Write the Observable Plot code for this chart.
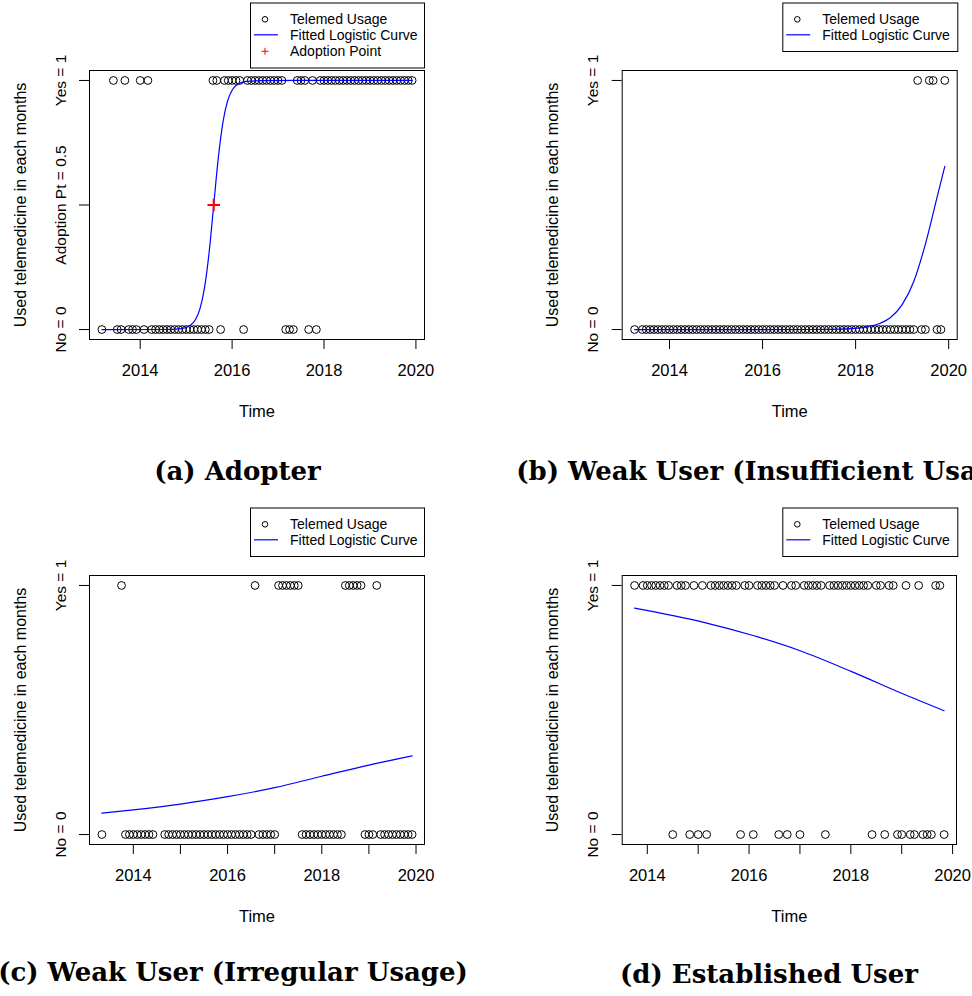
<!DOCTYPE html>
<html>
<head>
<meta charset="utf-8">
<script src="https://cdn.jsdelivr.net/npm/d3@7"></script>
<script src="https://cdn.jsdelivr.net/npm/@observablehq/plot@0.6"></script>
<style>
  html, body { margin: 0; padding: 0; background: #fff; }
  #fig { position: relative; width: 972px; height: 996px; overflow: hidden; background: #fff; }
  #fig > svg { position: absolute; }
</style>
</head>
<body>
<div id="fig"></div>
<script>
// Monthly usage records, as month indices counted from January 2013 (0 = Jan 2013).
// "No" = no telemedicine use in that month, "Yes" = telemedicine used.
const adopterNo  = [2, 6, 7, 9, 10, 11, 13, 15, 16, 17, 18, 19, 20, 21, 22, 23, 24, 25, 26, 27, 28, 29, 30, 33, 39, 50, 51, 52, 56, 58];
const adopterYes = [5, 8, 12, 14, 31, 32, 34, 35, 36, 37, 38, 40, 41, 42, 43, 44, 45, 46, 47, 48, 49, 53, 54, 55, 57,
                    59, 60, 61, 62, 63, 64, 65, 66, 67, 68, 69, 70, 71, 72, 73, 74, 75, 76, 77, 78, 79, 80, 81, 82, 83];

const insufficientNo  = [3, 5, 6, 7, 8, 9, 10, 11, 12, 13, 14, 15, 16, 17, 18, 19, 20, 21, 22, 23, 24, 25, 26, 27, 28, 29, 30,
                         31, 32, 33, 34, 35, 36, 37, 38, 39, 40, 41, 42, 43, 44, 45, 46, 47, 48, 49, 50, 51, 52, 53, 54, 55,
                         56, 57, 58, 59, 60, 61, 62, 63, 64, 65, 66, 67, 68, 69, 70, 71, 72, 73, 74, 75, 77, 78, 81, 82];
const insufficientYes = [76, 79, 80, 83];

const irregularNo  = [4, 10, 11, 12, 13, 14, 15, 16, 17, 20, 21, 22, 23, 24, 25, 26, 27, 28, 29, 30, 31, 32, 33, 34, 35, 36,
                      37, 38, 39, 40, 41, 42, 44, 45, 46, 47, 48, 55, 56, 57, 58, 59, 60, 61, 62, 63, 64, 65, 71, 72, 73,
                      75, 76, 77, 78, 79, 80, 81, 82, 83];
const irregularYes = [9, 43, 49, 50, 51, 52, 53, 54, 66, 67, 68, 69, 70, 74];

const establishedNo  = [18, 22, 24, 26, 34, 37, 43, 45, 48, 54, 65, 68, 71, 72, 74, 75, 77, 78, 79, 82];
const establishedYes = [9, 11, 12, 13, 14, 15, 16, 17, 19, 20, 21, 23, 25, 27, 28, 29, 30, 31, 32, 33, 35, 36, 38, 39, 40,
                        41, 42, 44, 46, 47, 49, 50, 51, 52, 53, 55, 56, 57, 58, 59, 60, 61, 62, 63, 64, 66, 67, 69, 70,
                        73, 76, 80, 81];

// Fitted logistic curves: [time, fitted probability]
const adopterFit = [[2013.167, 0], [2014.5, 0.0002], [2014.9, 0.004], [2015.1, 0.018], [2015.2, 0.039], [2015.3, 0.083],
                    [2015.4, 0.168], [2015.5, 0.31], [2015.6, 0.5], [2015.7, 0.69], [2015.8, 0.832], [2015.9, 0.917],
                    [2016.0, 0.961], [2016.1, 0.982], [2016.3, 0.996], [2016.6, 0.999], [2017.5, 1], [2019.917, 1]];
const insufficientFit = [[2013.25, 0], [2016, 0.00001], [2017, 0.0002], [2017.5, 0.001], [2018, 0.005], [2018.25, 0.011],
                         [2018.5, 0.023], [2018.75, 0.048], [2019, 0.10], [2019.25, 0.193], [2019.5, 0.343],
                         [2019.75, 0.531], [2019.917, 0.655]];
const irregularFit = [[2013.333, 0.086], [2014, 0.099], [2015, 0.122], [2016, 0.152], [2017, 0.188], [2018, 0.234],
                      [2019, 0.279], [2019.917, 0.316]];
const establishedFit = [[2013.75, 0.909], [2015.09, 0.853], [2016.08, 0.799], [2016.99, 0.739], [2018.04, 0.652],
                        [2019.02, 0.565], [2019.833, 0.497]];

// Adoption point of the adopter's fitted curve
const adoptionPoint = {time: 2015.6, p: 0.5};

// Axis ticks and labels
const evenYears = [2014, 2016, 2018, 2020];
const allYears = [2014, 2015, 2016, 2017, 2018, 2019, 2020];
const yTicksBasic = [{v: 0, label: "No = 0"}, {v: 1, label: "Yes = 1"}];
const yTicksAdopter = [{v: 0, label: "No = 0"}, {v: adoptionPoint.p, label: `Adoption Pt = ${adoptionPoint.p}`}, {v: 1, label: "Yes = 1"}];
const yTitle = "Used telemedicine in each months";
const xTitle = "Time";
const legendLabels = ["Telemed Usage", "Fitted Logistic Curve", "Adoption Point"];
const captions = ["(a) Adopter", "(b) Weak User (Insufficient Usage)", "(c) Weak User (Irregular Usage)", "(d) Established User"];

const toYear = m => 2013 + m / 12;
const SANS = "'Liberation Sans', Arial, Helvetica, sans-serif";
const fig = document.getElementById("fig");

function panel({no, yes, fit, yTicks, xTicks, left, top, width, height, frame, adoption}) {
  const pts = [
    ...no.map(m => ({t: toYear(m), v: 0})),
    ...yes.map(m => ({t: toYear(m), v: 1}))
  ];
  const [t0, t1] = d3.extent(pts, d => d.t);
  const pad = (t1 - t0) * 0.04;
  const marks = [
    Plot.dot(pts, {x: "t", y: "v", r: 3.9, stroke: "black", strokeWidth: 1, fill: "none"}),
    Plot.line(fit, {x: d => d[0], y: d => d[1], stroke: "#0000ff", strokeWidth: 1.2, curve: "monotone-x"}),
    Plot.frame({stroke: "black", strokeWidth: 1}),
    Plot.axisX({ticks: xTicks, tickSize: 10, tickPadding: 15, label: null, fontSize: 16.5,
                tickFormat: d => evenYears.includes(d) ? String(d) : ""}),
    Plot.axisY({ticks: yTicks.map(d => d.v), tickSize: 10, label: null, tickFormat: () => ""}),
    Plot.text(yTicks, {y: "v", text: "label", frameAnchor: "left", rotate: -90, dx: -24,
                       textAnchor: "middle", lineAnchor: "bottom", fontSize: 15.5}),
    Plot.text([yTitle], {frameAnchor: "left", rotate: -90, dx: -64, textAnchor: "middle",
                         lineAnchor: "bottom", fontSize: 16}),
    Plot.text([xTitle], {frameAnchor: "bottom", dy: 77, lineAnchor: "bottom", fontSize: 16.5})
  ];
  if (adoption) {
    marks.push(Plot.dot([adoption], {x: "time", y: "p", symbol: "plus", r: 4.1, stroke: "#ff0000", strokeWidth: 2}));
  }
  const svg = Plot.plot({
    width, height,
    marginLeft: frame[0] - left, marginRight: left + width - frame[1],
    marginTop: frame[2] - top, marginBottom: top + height - frame[3],
    x: {domain: [t0 - pad, t1 + pad]},
    y: {domain: [-0.04, 1.04]},
    style: {fontFamily: SANS, fontSize: "16px", background: "transparent", overflow: "visible", color: "black"},
    marks
  });
  svg.style.left = left + "px";
  svg.style.top = top + "px";
  fig.appendChild(svg);
}

panel({no: adopterNo, yes: adopterYes, fit: adopterFit, yTicks: yTicksAdopter, xTicks: evenYears,
       left: 0, top: 0, width: 486, height: 500, frame: [89, 424, 70, 339], adoption: adoptionPoint});
panel({no: insufficientNo, yes: insufficientYes, fit: insufficientFit, yTicks: yTicksBasic, xTicks: evenYears,
       left: 486, top: 0, width: 486, height: 500, frame: [621.7, 956.7, 70, 339]});
panel({no: irregularNo, yes: irregularYes, fit: irregularFit, yTicks: yTicksBasic, xTicks: allYears,
       left: 0, top: 500, width: 486, height: 496, frame: [89, 424, 575, 844]});
panel({no: establishedNo, yes: establishedYes, fit: establishedFit, yTicks: yTicksBasic, xTicks: allYears,
       left: 486, top: 500, width: 486, height: 496, frame: [621.7, 956, 575, 844]});

// Legends and sub-figure captions
const overlay = d3.select(fig).append("svg")
  .attr("width", 972).attr("height", 996)
  .style("left", "0px").style("top", "0px");

function legend(x, y, w, n) {
  const g = overlay.append("g").attr("transform", `translate(${x},${y})`);
  const h = n === 3 ? 65 : 48.5;
  g.append("rect").attr("x", 0.5).attr("y", 0.5).attr("width", w).attr("height", h)
    .attr("fill", "white").attr("stroke", "black").attr("stroke-width", 1);
  const rowY = [16.8, 32.3, 48.8];
  for (let i = 0; i < n; i++) {
    const cy = rowY[i];
    if (i === 0) g.append("circle").attr("cx", 15).attr("cy", cy).attr("r", 2.8)
      .attr("fill", "none").attr("stroke", "black").attr("stroke-width", 1);
    if (i === 1) g.append("line").attr("x1", 4).attr("x2", 28).attr("y1", cy).attr("y2", cy)
      .attr("stroke", "#0000ff").attr("stroke-width", 1.2);
    if (i === 2) g.append("path").attr("d", `M11.5,${cy}H18.5M15,${cy - 3.5}V${cy + 3.5}`)
      .attr("stroke", "#ff0000").attr("stroke-width", 1);
    g.append("text").attr("x", 40).attr("y", cy).attr("dy", "0.36em")
      .attr("font-family", SANS).attr("font-size", 14).text(legendLabels[i]);
  }
}
legend(250, 2.5, 174, 3);
legend(782.3, 2.5, 175, 2);
legend(250, 507.5, 174, 2);
legend(782.3, 507.5, 175, 2);

const capPos = [[237.5, 480], [770, 480], [233, 981], [769, 983]];
captions.forEach((c, i) => {
  overlay.append("text").attr("x", capPos[i][0]).attr("y", capPos[i][1])
    .attr("text-anchor", "middle").attr("font-family", "'DejaVu Serif', serif")
    .attr("font-weight", "bold").attr("font-size", 26).text(c);
});
</script>
</body>
</html>
